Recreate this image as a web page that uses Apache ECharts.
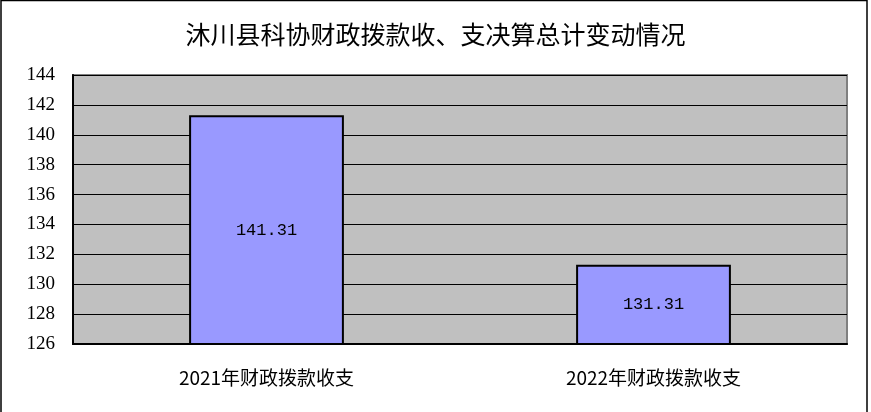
<!DOCTYPE html>
<html>
<head>
<meta charset="utf-8">
<script src="https://cdn.jsdelivr.net/npm/echarts@6/dist/echarts.min.js"></script>
<style>
  html, body { margin: 0; padding: 0; background: #fff; }
  #main { width: 871px; height: 412px; }
</style>
</head>
<body>
<div id="main"></div>
<script>
var titleText = '沐川县科协财政拨款收、支决算总计变动情况';
var categories = ['2021年财政拨款收支', '2022年财政拨款收支'];
var values = [141.31, 131.31];
var yMin = 126, yMax = 144, yStep = 2;

var chart = echarts.init(document.getElementById('main'));
var option = {
  backgroundColor: '#FFFFFF',
  animation: false,
  title: {
    text: titleText,
    left: 'center',
    top: 17,
    textStyle: {
      fontFamily: 'Noto Sans CJK SC',
      fontSize: 25,
      fontWeight: 'normal',
      color: '#000'
    }
  },
  graphic: [{
    type: 'rect',
    shape: { x: 1, y: 0.5, width: 866, height: 420 },
    style: { fill: 'none', stroke: '#000', lineWidth: 1.5 },
    silent: true
  }],
  grid: {
    left: 73,
    right: 24,
    top: 75,
    bottom: 68,
    show: true,
    backgroundColor: '#C0C0C0',
    borderColor: '#808080',
    borderWidth: 2
  },
  xAxis: {
    type: 'category',
    data: categories,
    axisLine: { lineStyle: { color: '#000', width: 2 } },
    axisTick: { inside: true, length: 5, lineStyle: { color: '#000', width: 2 } },
    axisLabel: {
      margin: 24,
      fontFamily: 'Noto Sans CJK SC',
      fontSize: 19,
      color: '#000'
    }
  },
  yAxis: {
    type: 'value',
    min: yMin,
    max: yMax,
    interval: yStep,
    axisLine: { show: true, lineStyle: { color: '#000', width: 2 } },
    axisTick: { show: false },
    splitLine: { lineStyle: { color: '#000', width: 1 } },
    axisLabel: {
      margin: 18,
      fontFamily: 'Liberation Serif',
      fontSize: 19,
      color: '#000'
    }
  },
  series: [{
    type: 'bar',
    data: values,
    barWidth: '40%',
    itemStyle: {
      color: '#9999FF',
      borderColor: '#000',
      borderWidth: 2
    },
    label: {
      show: true,
      position: 'inside',
      fontFamily: 'Liberation Mono',
      fontSize: 17,
      color: '#000'
    }
  }]
};
chart.setOption(option);
</script>
</body>
</html>
